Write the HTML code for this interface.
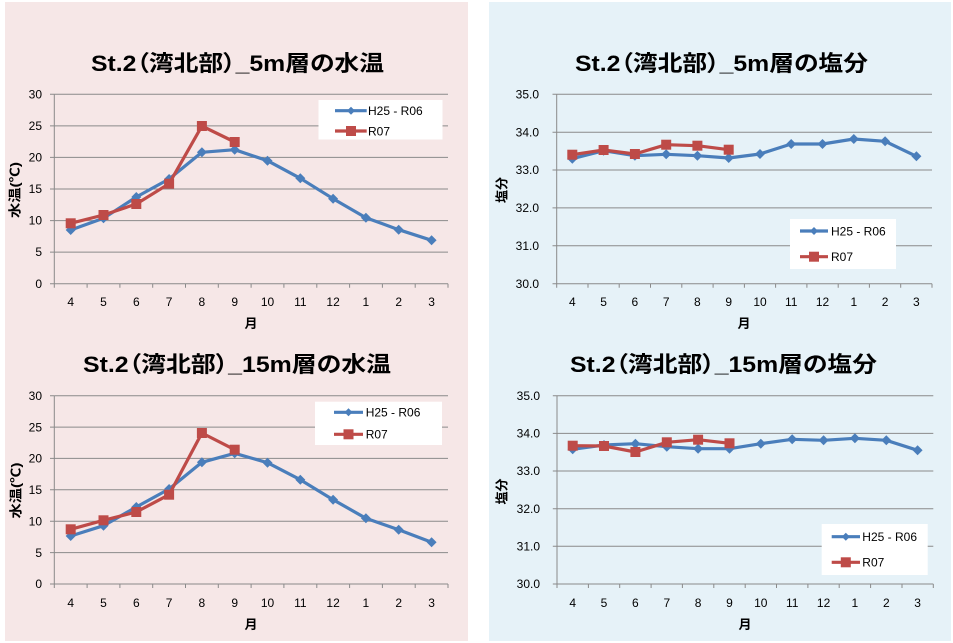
<!DOCTYPE html>
<html><head><meta charset="utf-8">
<style>
html,body{margin:0;padding:0;background:#fff;}
svg{display:block;}
text{font-family:"Liberation Sans","Noto Sans CJK JP",sans-serif;}
.t{font-weight:bold;font-size:22px;fill:#000;font-feature-settings:"palt";}
.tk{font-size:12px;fill:#000;}
.ax{font-size:13px;font-weight:bold;fill:#000;}
.lg{font-size:12px;fill:#000;}
.g{stroke:#8a8a8a;stroke-width:1;fill:none;}
.b{stroke:#4A7EBB;stroke-width:3.2;fill:none;stroke-linejoin:round;}
.r{stroke:#BE4B48;stroke-width:3.2;fill:none;stroke-linejoin:round;}
.bm{fill:#4A7EBB;}
.rm{fill:#BE4B48;}
</style></head>
<body>
<svg width="953" height="643" viewBox="0 0 953 643" xmlns="http://www.w3.org/2000/svg">
<defs>
<path id="dm" d="M0,-5 L5,0 L0,5 L-5,0 Z"/>
<path id="dl" d="M0,-4 L4,0 L0,4 L-4,0 Z"/>
<rect id="sq" x="-5" y="-5" width="10" height="10"/>
</defs>
<rect x="5" y="2" width="463" height="639" fill="#F6E7E7"/>
<rect x="489" y="2" width="462" height="639" fill="#E6F2F8"/>

<!-- ============ TOP LEFT ============ -->
<text class="t" x="91" y="71" textLength="293" lengthAdjust="spacingAndGlyphs">St.2（湾北部）_5m層の水温</text>
<g class="g">
<path d="M54.3,94.3H448M54.3,125.9H448M54.3,157.4H448M54.3,189H448M54.3,220.6H448M54.3,252.1H448M54.3,283.7H448"/>
<path d="M54.3,94.3V283.7"/>
<path d="M50,94.3H54.3M50,125.9H54.3M50,157.4H54.3M50,189H54.3M50,220.6H54.3M50,252.1H54.3M50,283.7H54.3"/>
<path d="M54.3,283.7v4M87.1,283.7v4M119.9,283.7v4M152.7,283.7v4M185.5,283.7v4M218.3,283.7v4M251.1,283.7v4M283.9,283.7v4M316.8,283.7v4M349.6,283.7v4M382.4,283.7v4M415.2,283.7v4M448,283.7v4"/>
</g>
<g class="tk" text-anchor="end">
<text x="42" y="98.5">30</text><text x="42" y="130">25</text><text x="42" y="161.5">20</text><text x="42" y="193">15</text><text x="42" y="224.7">10</text><text x="42" y="256.2">5</text><text x="42" y="287.8">0</text>
</g>
<g class="tk" text-anchor="middle">
<text x="70.7" y="306">4</text><text x="103.5" y="306">5</text><text x="136.3" y="306">6</text><text x="169.1" y="306">7</text><text x="201.9" y="306">8</text><text x="234.7" y="306">9</text><text x="267.5" y="306">10</text><text x="300.3" y="306">11</text><text x="333.1" y="306">12</text><text x="365.9" y="306">1</text><text x="398.7" y="306">2</text><text x="431.6" y="306">3</text>
</g>
<text class="ax" x="251" y="328" text-anchor="middle">月</text>
<text class="ax" transform="translate(19.5,190) rotate(-90)" text-anchor="middle" textLength="56" lengthAdjust="spacingAndGlyphs">水温(℃)</text>
<polyline class="b" points="70.7,230 103.5,218.3 136.3,197 169.1,179 201.9,152.3 234.7,149.7 267.5,160.7 300.3,178.3 333.1,198.7 365.9,217.7 398.7,229.7 431.6,240.3"/>
<g class="bm"><use href="#dm" x="70.7" y="230"/><use href="#dm" x="103.5" y="218.3"/><use href="#dm" x="136.3" y="197"/><use href="#dm" x="169.1" y="179"/><use href="#dm" x="201.9" y="152.3"/><use href="#dm" x="234.7" y="149.7"/><use href="#dm" x="267.5" y="160.7"/><use href="#dm" x="300.3" y="178.3"/><use href="#dm" x="333.1" y="198.7"/><use href="#dm" x="365.9" y="217.7"/><use href="#dm" x="398.7" y="229.7"/><use href="#dm" x="431.6" y="240.3"/></g>
<polyline class="r" points="70.7,223.3 103.5,215 136.3,204 169.1,183.7 201.9,126 234.7,142"/>
<g class="rm"><use href="#sq" x="70.7" y="223.3"/><use href="#sq" x="103.5" y="215"/><use href="#sq" x="136.3" y="204"/><use href="#sq" x="169.1" y="183.7"/><use href="#sq" x="201.9" y="126"/><use href="#sq" x="234.7" y="142"/></g>
<rect x="318.5" y="100" width="124" height="39.5" fill="#fff"/>
<path class="b" d="M335,110.7H366.7"/><use class="bm" href="#dl" x="351" y="110.7"/>
<path class="r" d="M335,131H366.7"/><use class="rm" href="#sq" x="351" y="131"/>
<text class="lg" x="368" y="115">H25 - R06</text>
<text class="lg" x="368" y="135.3">R07</text>

<!-- ============ TOP RIGHT ============ -->
<text class="t" x="575" y="71" textLength="293" lengthAdjust="spacingAndGlyphs">St.2（湾北部）_5m層の塩分</text>
<g class="g">
<path d="M556.7,94.3H932M556.7,132.2H932M556.7,170H932M556.7,207.9H932M556.7,245.8H932M556.7,283.7H932"/>
<path d="M556.7,94.3V283.7"/>
<path d="M552.5,94.3H556.7M552.5,132.2H556.7M552.5,170H556.7M552.5,207.9H556.7M552.5,245.8H556.7M552.5,283.7H556.7"/>
<path d="M556.7,283.7v4M588,283.7v4M619.2,283.7v4M650.5,283.7v4M681.8,283.7v4M713.1,283.7v4M744.4,283.7v4M775.6,283.7v4M806.9,283.7v4M838.2,283.7v4M869.4,283.7v4M900.7,283.7v4M932,283.7v4"/>
</g>
<g class="tk" text-anchor="end">
<text x="539" y="98.5">35.0</text><text x="539" y="136.4">34.0</text><text x="539" y="174.2">33.0</text><text x="539" y="212.1">32.0</text><text x="539" y="250">31.0</text><text x="539" y="287.8">30.0</text>
</g>
<g class="tk" text-anchor="middle">
<text x="572.3" y="306">4</text><text x="603.6" y="306">5</text><text x="634.9" y="306">6</text><text x="666.2" y="306">7</text><text x="697.4" y="306">8</text><text x="728.7" y="306">9</text><text x="760" y="306">10</text><text x="791.2" y="306">11</text><text x="822.5" y="306">12</text><text x="853.8" y="306">1</text><text x="885.1" y="306">2</text><text x="916.4" y="306">3</text>
</g>
<text class="ax" x="744" y="328" text-anchor="middle">月</text>
<text class="ax" transform="translate(506.5,190) rotate(-90)" text-anchor="middle">塩分</text>
<polyline class="b" points="572.3,158.7 603.6,150.7 634.9,155.7 666.2,154.3 697.4,155.7 728.7,158 760,154 791.2,144 822.5,144 853.8,139 885.1,141.3 916.4,156.3"/>
<g class="bm"><use href="#dm" x="572.3" y="158.7"/><use href="#dm" x="603.6" y="150.7"/><use href="#dm" x="634.9" y="155.7"/><use href="#dm" x="666.2" y="154.3"/><use href="#dm" x="697.4" y="155.7"/><use href="#dm" x="728.7" y="158"/><use href="#dm" x="760" y="154"/><use href="#dm" x="791.2" y="144"/><use href="#dm" x="822.5" y="144"/><use href="#dm" x="853.8" y="139"/><use href="#dm" x="885.1" y="141.3"/><use href="#dm" x="916.4" y="156.3"/></g>
<polyline class="r" points="572.3,154.7 603.6,150 634.9,154 666.2,144.7 697.4,145.7 728.7,149.7"/>
<g class="rm"><use href="#sq" x="572.3" y="154.7"/><use href="#sq" x="603.6" y="150"/><use href="#sq" x="634.9" y="154"/><use href="#sq" x="666.2" y="144.7"/><use href="#sq" x="697.4" y="145.7"/><use href="#sq" x="728.7" y="149.7"/></g>
<rect x="790" y="219" width="106" height="50" fill="#fff"/>
<path class="b" d="M800,231H828"/><use class="bm" href="#dl" x="814" y="231"/>
<path class="r" d="M800,256.7H828"/><use class="rm" href="#sq" x="814" y="256.7"/>
<text class="lg" x="831" y="235.3">H25 - R06</text>
<text class="lg" x="831" y="261">R07</text>

<!-- ============ BOTTOM LEFT ============ -->
<text class="t" x="83" y="372" textLength="308" lengthAdjust="spacingAndGlyphs">St.2（湾北部）_15m層の水温</text>
<g class="g">
<path d="M54.3,395.7H448M54.3,427.1H448M54.3,458.4H448M54.3,489.8H448M54.3,521.2H448M54.3,552.6H448M54.3,584H448"/>
<path d="M54.3,395.7V584"/>
<path d="M50,395.7H54.3M50,427.1H54.3M50,458.4H54.3M50,489.8H54.3M50,521.2H54.3M50,552.6H54.3M50,584H54.3"/>
<path d="M54.3,584v4M87.1,584v4M119.9,584v4M152.7,584v4M185.5,584v4M218.3,584v4M251.1,584v4M283.9,584v4M316.8,584v4M349.6,584v4M382.4,584v4M415.2,584v4M448,584v4"/>
</g>
<g class="tk" text-anchor="end">
<text x="42" y="399.9">30</text><text x="42" y="431.3">25</text><text x="42" y="462.6">20</text><text x="42" y="494">15</text><text x="42" y="525.4">10</text><text x="42" y="556.8">5</text><text x="42" y="588.2">0</text>
</g>
<g class="tk" text-anchor="middle">
<text x="70.7" y="607">4</text><text x="103.5" y="607">5</text><text x="136.3" y="607">6</text><text x="169.1" y="607">7</text><text x="201.9" y="607">8</text><text x="234.7" y="607">9</text><text x="267.5" y="607">10</text><text x="300.3" y="607">11</text><text x="333.1" y="607">12</text><text x="365.9" y="607">1</text><text x="398.7" y="607">2</text><text x="431.6" y="607">3</text>
</g>
<text class="ax" x="251" y="629" text-anchor="middle">月</text>
<text class="ax" transform="translate(20.5,490.5) rotate(-90)" text-anchor="middle" textLength="56" lengthAdjust="spacingAndGlyphs">水温(℃)</text>
<polyline class="b" points="70.7,536 103.5,525.7 136.3,507 169.1,489 201.9,462.3 234.7,453.3 267.5,462.7 300.3,479.7 333.1,499.7 365.9,518.3 398.7,529.7 431.6,542.3"/>
<g class="bm"><use href="#dm" x="70.7" y="536"/><use href="#dm" x="103.5" y="525.7"/><use href="#dm" x="136.3" y="507"/><use href="#dm" x="169.1" y="489"/><use href="#dm" x="201.9" y="462.3"/><use href="#dm" x="234.7" y="453.3"/><use href="#dm" x="267.5" y="462.7"/><use href="#dm" x="300.3" y="479.7"/><use href="#dm" x="333.1" y="499.7"/><use href="#dm" x="365.9" y="518.3"/><use href="#dm" x="398.7" y="529.7"/><use href="#dm" x="431.6" y="542.3"/></g>
<polyline class="r" points="70.7,529.3 103.5,520.3 136.3,512 169.1,494.7 201.9,433 234.7,449.7"/>
<g class="rm"><use href="#sq" x="70.7" y="529.3"/><use href="#sq" x="103.5" y="520.3"/><use href="#sq" x="136.3" y="512"/><use href="#sq" x="169.1" y="494.7"/><use href="#sq" x="201.9" y="433"/><use href="#sq" x="234.7" y="449.7"/></g>
<rect x="315" y="401.7" width="127" height="43.3" fill="#fff"/>
<path class="b" d="M334,412.3H363"/><use class="bm" href="#dl" x="348.5" y="412.3"/>
<path class="r" d="M334,434.3H363"/><use class="rm" href="#sq" x="348.5" y="434.3"/>
<text class="lg" x="365.7" y="416.6">H25 - R06</text>
<text class="lg" x="365.7" y="438.6">R07</text>

<!-- ============ BOTTOM RIGHT ============ -->
<text class="t" x="570" y="372" textLength="307" lengthAdjust="spacingAndGlyphs">St.2（湾北部）_15m層の塩分</text>
<g class="g">
<path d="M557,395.7H933.3M557,433.4H933.3M557,471H933.3M557,508.7H933.3M557,546.3H933.3M557,584H933.3"/>
<path d="M557,395.7V584"/>
<path d="M552.8,395.7H557M552.8,433.4H557M552.8,471H557M552.8,508.7H557M552.8,546.3H557M552.8,584H557"/>
<path d="M557,584v4M588.4,584v4M619.7,584v4M651.1,584v4M682.4,584v4M713.8,584v4M745.2,584v4M776.5,584v4M807.9,584v4M839.2,584v4M870.6,584v4M902,584v4M933.3,584v4"/>
</g>
<g class="tk" text-anchor="end">
<text x="540" y="399.9">35.0</text><text x="540" y="437.6">34.0</text><text x="540" y="475.2">33.0</text><text x="540" y="512.9">32.0</text><text x="540" y="550.5">31.0</text><text x="540" y="588.2">30.0</text>
</g>
<g class="tk" text-anchor="middle">
<text x="572.7" y="607">4</text><text x="604" y="607">5</text><text x="635.4" y="607">6</text><text x="666.8" y="607">7</text><text x="698.1" y="607">8</text><text x="729.5" y="607">9</text><text x="760.8" y="607">10</text><text x="792.2" y="607">11</text><text x="823.6" y="607">12</text><text x="854.9" y="607">1</text><text x="886.3" y="607">2</text><text x="917.6" y="607">3</text>
</g>
<text class="ax" x="745" y="629" text-anchor="middle">月</text>
<text class="ax" transform="translate(506.5,491.5) rotate(-90)" text-anchor="middle">塩分</text>
<polyline class="b" points="572.7,449.3 604,445 635.4,443.7 666.8,446.7 698.1,448.7 729.5,448.7 760.8,443.7 792.2,439.3 823.6,440.3 854.9,438.3 886.3,440.3 917.6,450.3"/>
<g class="bm"><use href="#dm" x="572.7" y="449.3"/><use href="#dm" x="604" y="445"/><use href="#dm" x="635.4" y="443.7"/><use href="#dm" x="666.8" y="446.7"/><use href="#dm" x="698.1" y="448.7"/><use href="#dm" x="729.5" y="448.7"/><use href="#dm" x="760.8" y="443.7"/><use href="#dm" x="792.2" y="439.3"/><use href="#dm" x="823.6" y="440.3"/><use href="#dm" x="854.9" y="438.3"/><use href="#dm" x="886.3" y="440.3"/><use href="#dm" x="917.6" y="450.3"/></g>
<polyline class="r" points="572.7,445.7 604,446 635.4,452 666.8,442.3 698.1,439.7 729.5,443.3"/>
<g class="rm"><use href="#sq" x="572.7" y="445.7"/><use href="#sq" x="604" y="446"/><use href="#sq" x="635.4" y="452"/><use href="#sq" x="666.8" y="442.3"/><use href="#sq" x="698.1" y="439.7"/><use href="#sq" x="729.5" y="443.3"/></g>
<rect x="821.7" y="524" width="106" height="51" fill="#fff"/>
<path class="b" d="M831.7,536.7H860"/><use class="bm" href="#dl" x="845.8" y="536.7"/>
<path class="r" d="M831.7,562.3H860"/><use class="rm" href="#sq" x="845.8" y="562.3"/>
<text class="lg" x="862.3" y="541">H25 - R06</text>
<text class="lg" x="862.3" y="566.6">R07</text>
</svg>
</body></html>
